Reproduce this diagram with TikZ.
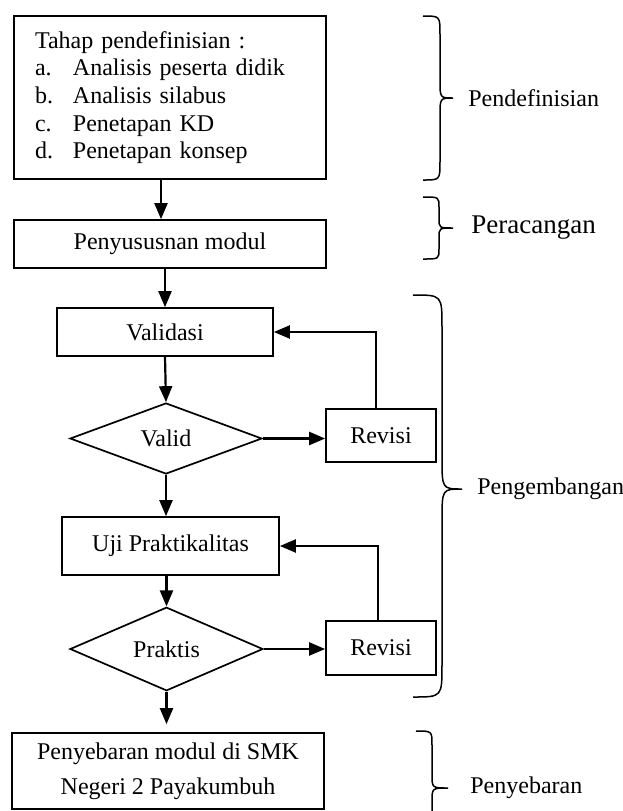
\documentclass[tikz,border=0pt]{standalone}
\usepackage{fontspec}
\setmainfont{Liberation Serif}
\usetikzlibrary{arrows.meta,shapes.geometric}
\def\rightbrace(#1:#2:#3)(#4:#5:#6)(#7){\draw[line width=0.75pt] (#1,#4) .. controls (#2,#4) .. (#2,#4+#7) -- (#2,#5-#7) .. controls (#2,#5) .. (#3,#5) .. controls (#2,#5) .. (#2,#5+#7) -- (#2,#6-#7) .. controls (#2,#6) .. (#1,#6);}

\begin{document}
\begin{tikzpicture}[x=0.5pt, y=-0.5pt,
		font=\fontsize{12}{13.8}\selectfont,
		stagebox/.style={draw, line width=0.85pt, inner sep=0pt, align=center},
		checkbox/.style={draw, diamond, line width=0.85pt, inner sep=0pt},
		flow/.style={line width=1.1pt, -{Triangle[length=8pt,width=6.5pt]}},
		phase/.style={anchor=west, inner sep=0pt}]
		%%%%% START %%%%%
		
		\useasboundingbox (0,0) rectangle (623,811);
		\clip (0,0) rectangle (623,811);
		
		\node[stagebox, minimum width=156pt, minimum height=81.5pt, text width=135pt, inner xsep=10.5pt, align=left] (define) at (170,97.5) {Tahap pendefinisian :\\
			\makebox[19pt][l]{a.}Analisis peserta didik\\
			\makebox[19pt][l]{b.}Analisis silabus\\
			\makebox[19pt][l]{c.}Penetapan KD\\
			\makebox[19pt][l]{d.}Penetapan konsep};
		\node[stagebox, minimum width=156pt, minimum height=24pt] (susun) at (170,244) {Penyususnan modul};
		\node[stagebox, minimum width=108pt, minimum height=24pt] (validasi) at (165,332) {Validasi};
		\node[checkbox, minimum width=96pt, minimum height=35.5pt] (valid) at (166,438.5) {Valid};
		\node[stagebox, minimum width=55pt, minimum height=26.5pt] (revisiA) at (381,435.5) {Revisi};
		\node[stagebox, minimum width=108.5pt, minimum height=29pt] (uji) at (170.5,546) {Uji Praktikalitas};
		\node[checkbox, minimum width=96.5pt, minimum height=36pt] (praktis) at (166.5,649) {Praktis};
		\node[stagebox, minimum width=55pt, minimum height=27pt] (revisiB) at (381,648) {Revisi};
		\node[stagebox, minimum width=156pt, minimum height=38pt] (sebar) at (168,771) {Penyebaran modul di SMK\\[3.7pt]Negeri 2 Payakumbuh};
		
		\draw[flow] ([xshift=-4.5pt]define.south) -- ([xshift=-4.5pt]susun.north);
		\draw[flow] (susun.south -| validasi.north) -- (validasi.north);
		\draw[flow] (validasi.south) -- (valid.north);
		\draw[flow] (valid.east) -- (valid.east -| revisiA.west);
		\draw[flow] ([xshift=-2.5pt]revisiA.north) |- (validasi.east);
		\draw[flow] (valid.south) -- (valid.south |- uji.north);
		\draw[flow] (uji.south -| praktis.north) -- (praktis.north);
		\draw[flow] (praktis.east) -- (praktis.east -| revisiB.west);
		\draw[flow] ([xshift=-1.5pt]revisiB.north) |- (uji.east);
		\draw[flow, shorten >=4pt] (praktis.south) -- (praktis.south |- sebar.north);
		
		\rightbrace(423:440:453)(16:98:180)(18);
		\node[phase] (pendef) at (468,98) {Pendefinisian};
		
		\rightbrace(423:439:453)(197:228:259)(10);
		\node[phase, font=\fontsize{13.5}{16}\selectfont] (rancang) at (471,228) {Peracangan};
		
		\rightbrace(413:442:462)(295:489:697)(32);
		\node[phase] (kembang) at (477,489) {Pengembangan};
		
		\rightbrace(416:432:448)(731:788:845)(14);
		\node[phase] (sebarlabel) at (470,788) {Penyebaran};
		
		%%%%% END %%%%%
\end{tikzpicture}
\end{document}
